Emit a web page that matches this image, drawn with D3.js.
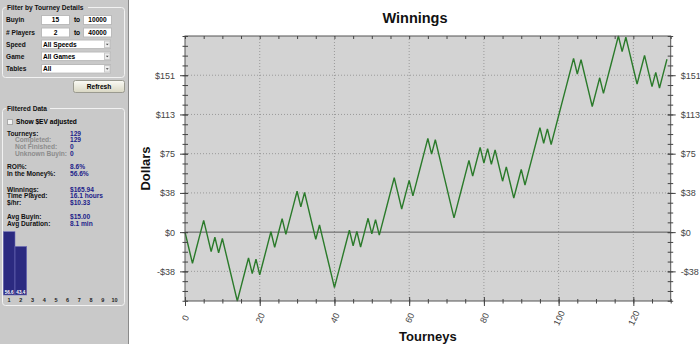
<!DOCTYPE html>
<meta charset="utf-8">
<script src="https://d3js.org/d3.v7.min.js"></script>
<style>
  body { margin: 0; background: #fff; overflow: hidden; }
  svg text { font-family: "Liberation Sans", Arial, sans-serif; }
</style>
<div id="my_dataviz"></div>
<script>
// cumulative winnings ($) after each tourney, tourney 0 = start
const winnings = [
  0, -15, -30, -16.22, -2.44, 11.34, -3.66, -18.66, -4.88, -19.88,
  -6.10, -21.10, -36.10, -51.10, -66.10, -52.32, -38.54, -24.76, -39.76, -25.98,
  -40.98, -27.20, -13.42, 0.36, -14.64, -0.86, 12.92, -2.08, 11.70, 25.48,
  39.26, 24.26, 38.04, 23.04, 8.04, -6.96, 6.82, -8.18, -23.18, -38.18,
  -53.18, -39.40, -25.62, -11.84, 1.94, -13.06, 0.72, -14.28, -0.50, 13.28,
  -1.72, 12.06, -2.94, 10.84, 24.62, 38.40, 52.18, 37.18, 22.18, 35.96,
  49.74, 34.74, 48.52, 62.30, 76.08, 89.86, 74.86, 88.64, 73.64, 58.64,
  43.64, 28.64, 13.64, 27.42, 41.20, 54.98, 68.76, 53.76, 67.54, 81.32,
  66.32, 80.10, 65.10, 78.88, 63.88, 48.88, 62.66, 47.66, 32.66, 46.44,
  60.22, 45.22, 59.00, 72.78, 86.56, 100.34, 85.34, 99.12, 84.12, 97.90,
  111.68, 125.46, 139.24, 153.02, 166.80, 151.80, 165.58, 150.58, 135.58, 120.58,
  134.36, 148.14, 133.14, 146.92, 160.70, 174.48, 188.26, 173.26, 187.04, 172.04,
  157.04, 142.04, 155.82, 169.60, 154.60, 139.60, 153.38, 138.38, 152.16, 165.94
];
const tourneys = winnings.map((d, i) => i);

const xTickValues = [0, 20, 40, 60, 80, 100, 120];
const yTickValues = [-37.65, 0, 37.65, 75.30, 112.96, 150.61];
const yTickLabels = ["-$38", "$0", "$38", "$75", "$113", "$151"];

// left panel content
const filterLabels = ["Buyin", "# Players", "Speed", "Game", "Tables"];
const rangeFrom = ["15", "2"];
const rangeTo = ["10000", "40000"];
const dropValues = ["All Speeds", "All Games", "All"];

const statLabels = ["Tourneys:", "Completed:", "Not Finished:", "Unknown Buyin:",
  "ROI%:", "In the Money%:", "Winnings:", "Time Played:", "$/hr:", "Avg Buyin:", "Avg Duration:"];
const statValues = ["129", "129", "0", "0", "8.6%", "56.6%", "$165.94", "16.1 hours",
  "$10.33", "$15.00", "8.1 min"];
const statIsSub = [false, true, true, true, false, false, false, false, false, false, false];

const places = [1, 2, 3, 4, 5, 6, 7, 8, 9, 10];
const placePct = [56.6, 43.4, 0, 0, 0, 0, 0, 0, 0, 0];

const svg = d3.select("#my_dataviz")
  .append("svg")
    .attr("width", 700)
    .attr("height", 344);

// ---------------- left panel ----------------
const panelBg = "#c9c9c9";
const panel = svg.append("g");
panel.append("rect").attr("x", 0).attr("y", 0).attr("width", 128).attr("height", 344).attr("fill", panelBg);
panel.append("line").attr("x1", 128.5).attr("x2", 128.5).attr("y1", 0).attr("y2", 344).attr("stroke", "#8a8a8a");

function groupBox(x0, y0, w, h, title, tw) {
  panel.append("rect").attr("x", x0 + 0.5).attr("y", y0 + 0.5).attr("width", w).attr("height", h)
    .attr("rx", 3).attr("fill", "none").attr("stroke", "#f2f2f2");
  panel.append("rect").attr("x", x0 + 4).attr("y", y0 - 3).attr("width", tw).attr("height", 7).attr("fill", panelBg);
  panel.append("text").attr("x", x0 + 5).attr("y", y0 + 2.5)
    .style("font-size", "6.6px").style("font-weight", "bold").attr("fill", "#111").text(title);
}
groupBox(2, 7, 122, 70, "Filter by Tourney Details", 82);
groupBox(2, 108, 122, 197, "Filtered Data", 44);

const rowY = [20, 32.5, 44.3, 56.3, 68.8];
panel.selectAll("flabel").data(filterLabels).join("text")
  .attr("x", 6).attr("y", (d, i) => rowY[i]).attr("dy", "0.35em")
  .style("font-size", "6.6px").style("font-weight", "bold").attr("fill", "#111").text(d => d);

rangeFrom.forEach((v, i) => {
  const yy = rowY[i] - 4.5;
  panel.append("rect").attr("x", 41.5).attr("y", yy).attr("width", 28).attr("height", 9).attr("fill", "#fff").attr("stroke", "#bbb");
  panel.append("text").attr("x", 55.5).attr("y", rowY[i]).attr("dy", "0.35em").attr("text-anchor", "middle")
    .style("font-size", "6.6px").style("font-weight", "bold").text(v);
  panel.append("text").attr("x", 77).attr("y", rowY[i]).attr("dy", "0.35em").attr("text-anchor", "middle")
    .style("font-size", "6.6px").style("font-weight", "bold").text("to");
  panel.append("rect").attr("x", 83.5).attr("y", yy).attr("width", 28).attr("height", 9).attr("fill", "#fff").attr("stroke", "#bbb");
  panel.append("text").attr("x", 97.5).attr("y", rowY[i]).attr("dy", "0.35em").attr("text-anchor", "middle")
    .style("font-size", "6.6px").style("font-weight", "bold").text(rangeTo[i]);
});

dropValues.forEach((v, i) => {
  const yc = rowY[i + 2];
  panel.append("rect").attr("x", 41.5).attr("y", yc - 4.3).attr("width", 69).attr("height", 8.6).attr("fill", "#fff").attr("stroke", "#bbb");
  panel.append("rect").attr("x", 104.5).attr("y", yc - 3.3).attr("width", 5.5).attr("height", 6.6).attr("fill", "#ececec").attr("stroke", "#c8c8c8");
  panel.append("path").attr("d", `M${105.8},${yc - 0.6}L${108.7},${yc - 0.6}L${107.25},${yc + 1}Z`).attr("fill", "#444");
  panel.append("text").attr("x", 43).attr("y", yc).attr("dy", "0.35em")
    .style("font-size", "6.6px").style("font-weight", "bold").text(v);
});

// refresh button
const grad = svg.append("defs").append("linearGradient").attr("id", "btn").attr("x1", 0).attr("x2", 0).attr("y1", 0).attr("y2", 1);
grad.append("stop").attr("offset", "0%").attr("stop-color", "#fbfbf6");
grad.append("stop").attr("offset", "100%").attr("stop-color", "#d9d7c3");
panel.append("rect").attr("x", 73.5).attr("y", 80.5).attr("width", 51).attr("height", 12).attr("rx", 2)
  .attr("fill", "url(#btn)").attr("stroke", "#9a9a90");
panel.append("text").attr("x", 99).attr("y", 86.5).attr("dy", "0.35em").attr("text-anchor", "middle")
  .style("font-size", "6.6px").style("font-weight", "bold").text("Refresh");

// checkbox
panel.append("rect").attr("x", 7.5).attr("y", 119.5).attr("width", 5).attr("height", 5).attr("fill", "#f4f4f4").attr("stroke", "#aaa");
panel.append("text").attr("x", 16).attr("y", 122).attr("dy", "0.35em")
  .style("font-size", "6.6px").style("font-weight", "bold").text("Show $EV adjusted");

// stats
const statY = [133.3, 139.6, 146.6, 153.3, 166.7, 174, 189.3, 195.8, 202.3, 216.7, 223.3];
panel.selectAll("slabel").data(statLabels).join("text")
  .attr("x", (d, i) => statIsSub[i] ? 15 : 7).attr("y", (d, i) => statY[i]).attr("dy", "0.35em")
  .style("font-size", "6.6px").style("font-weight", "bold")
  .attr("fill", (d, i) => statIsSub[i] ? "#8c8c8c" : "#111").text(d => d);
panel.selectAll("svalue").data(statValues).join("text")
  .attr("x", 70).attr("y", (d, i) => statY[i]).attr("dy", "0.35em")
  .style("font-size", "6.6px").style("font-weight", "bold")
  .attr("fill", "#22228a").text(d => d);

// finish place histogram
const hx = d3.scaleBand().domain(places).range([3.3, 120.3]).padding(0);
const hy = d3.scaleLinear().domain([0, d3.max(placePct)]).range([295, 231.7]);
panel.selectAll("hbar").data(placePct).join("rect")
  .attr("x", (d, i) => hx(places[i])).attr("y", d => hy(d))
  .attr("width", hx.bandwidth()).attr("height", d => hy(0) - hy(d))
  .attr("fill", "#2b2a80").attr("stroke", "#6f6fb8").attr("stroke-width", 0.6);
panel.selectAll("hval").data(placePct.filter(d => d > 0)).join("text")
  .attr("x", (d, i) => hx(places[i]) + hx.bandwidth() / 2).attr("y", 292)
  .attr("text-anchor", "middle").attr("dy", "0.35em")
  .style("font-size", "4.6px").style("font-weight", "bold").attr("fill", "#fff").text(d => d.toFixed(1));
panel.selectAll("hlab").data(places).join("text")
  .attr("x", d => hx(d) + hx.bandwidth() / 2).attr("y", 300.3).attr("dy", "0.35em")
  .attr("text-anchor", "middle").style("font-size", "5.5px").style("font-weight", "bold").attr("fill", "#222").text(d => d);

// ---------------- chart ----------------
const margin = {top: 36, right: 29.3, bottom: 43, left: 185},
    width = 700 - margin.left - margin.right,
    height = 344 - margin.top - margin.bottom;

const g = svg.append("g").attr("transform", `translate(${margin.left},${margin.top})`);

const x = d3.scaleLinear().domain([0, 130]).range([0, width]);
const y = d3.scaleLinear().domain(d3.extent(winnings)).range([height, 0]);

const yStep = yTickValues[2] - yTickValues[1];
const yMinor = d3.range(Math.ceil(y.domain()[0] / (yStep / 4)), Math.floor(y.domain()[1] / (yStep / 4)) + 1)
  .map(k => k * yStep / 4);
const xMinor = d3.range(0, 131, 5);

g.append("rect").attr("width", width).attr("height", height).attr("fill", "#d3d3d3");

// grid
g.selectAll("vgrid").data(xTickValues.filter(d => d > 0)).join("line")
  .attr("x1", d => x(d)).attr("x2", d => x(d)).attr("y1", 0).attr("y2", height)
  .attr("stroke", "#8c8c8c").attr("stroke-width", 0.8).attr("stroke-dasharray", "1,2");
g.selectAll("hgrid").data(yTickValues.filter(d => d !== 0)).join("line")
  .attr("x1", 0).attr("x2", width).attr("y1", d => y(d)).attr("y2", d => y(d))
  .attr("stroke", "#8c8c8c").attr("stroke-width", 0.8).attr("stroke-dasharray", "1,2");
g.append("line").attr("x1", 0).attr("x2", width).attr("y1", y(0)).attr("y2", y(0))
  .attr("stroke", "#5a5a5a").attr("stroke-width", 1);

// line
g.append("path")
  .datum(winnings)
  .attr("fill", "none")
  .attr("stroke", "#2a7a2a")
  .attr("stroke-width", 1.4)
  .attr("stroke-linejoin", "miter")
  .attr("d", d3.line().x((d, i) => x(tourneys[i])).y(d => y(d)));

// frame
g.append("rect").attr("width", width).attr("height", height).attr("fill", "none").attr("stroke", "#555").attr("stroke-width", 1);

function styleAxis(sel) {
  sel.select(".domain").remove();
  sel.selectAll("line").attr("stroke", "#444");
  sel.selectAll("text").style("font-size", "9px").attr("fill", "#444");
}

// left
g.append("g").call(d3.axisLeft(y).tickValues(yMinor).tickFormat("").tickSize(2.5))
  .call(styleAxis).selectAll("line").attr("x2", -2.5).attr("x1", 3);
g.append("g").call(d3.axisLeft(y).tickValues(yTickValues).tickFormat((d, i) => yTickLabels[i]).tickSize(5).tickPadding(5))
  .call(styleAxis).selectAll("line").attr("x2", -5).attr("x1", 3);
// right
g.append("g").attr("transform", `translate(${width},0)`)
  .call(d3.axisRight(y).tickValues(yMinor).tickFormat("").tickSize(2.5))
  .call(styleAxis).selectAll("line").attr("x2", 2.5).attr("x1", -3);
g.append("g").attr("transform", `translate(${width},0)`)
  .call(d3.axisRight(y).tickValues(yTickValues).tickFormat((d, i) => yTickLabels[i]).tickSize(5).tickPadding(5))
  .call(styleAxis).selectAll("line").attr("x2", 5).attr("x1", -3);
// bottom
g.append("g").attr("transform", `translate(0,${height})`)
  .call(d3.axisBottom(x).tickValues(xMinor).tickFormat("").tickSize(2.5))
  .call(styleAxis).selectAll("line").attr("y2", 2.5).attr("y1", -2);
const xb = g.append("g").attr("transform", `translate(0,${height})`)
  .call(d3.axisBottom(x).tickValues(xTickValues).tickFormat(d3.format("d")).tickSize(5))
  .call(styleAxis);
xb.selectAll("line").attr("y2", 5).attr("y1", -4);
xb.selectAll("text")
  .attr("y", 0).attr("dy", "0.35em")
  .attr("transform", "translate(0,17)rotate(-65)")
  .style("text-anchor", "middle");
// top (inward ticks only)
g.append("g")
  .call(d3.axisTop(x).tickValues(xMinor).tickFormat("").tickSize(3))
  .call(styleAxis).selectAll("line").attr("y2", 3);

// titles
svg.append("text").attr("x", 415).attr("y", 22.5).attr("text-anchor", "middle")
  .style("font-size", "14.5px").style("font-weight", "bold").attr("fill", "#111").text("Winnings");
svg.append("text").attr("x", margin.left + width / 2).attr("y", 340.5).attr("text-anchor", "middle")
  .style("font-size", "13px").style("font-weight", "bold").attr("fill", "#111").text("Tourneys");
svg.append("text").attr("transform", `translate(150,${margin.top + height / 2})rotate(-90)`).attr("text-anchor", "middle")
  .style("font-size", "13px").style("font-weight", "bold").attr("fill", "#111").text("Dollars");
</script>
